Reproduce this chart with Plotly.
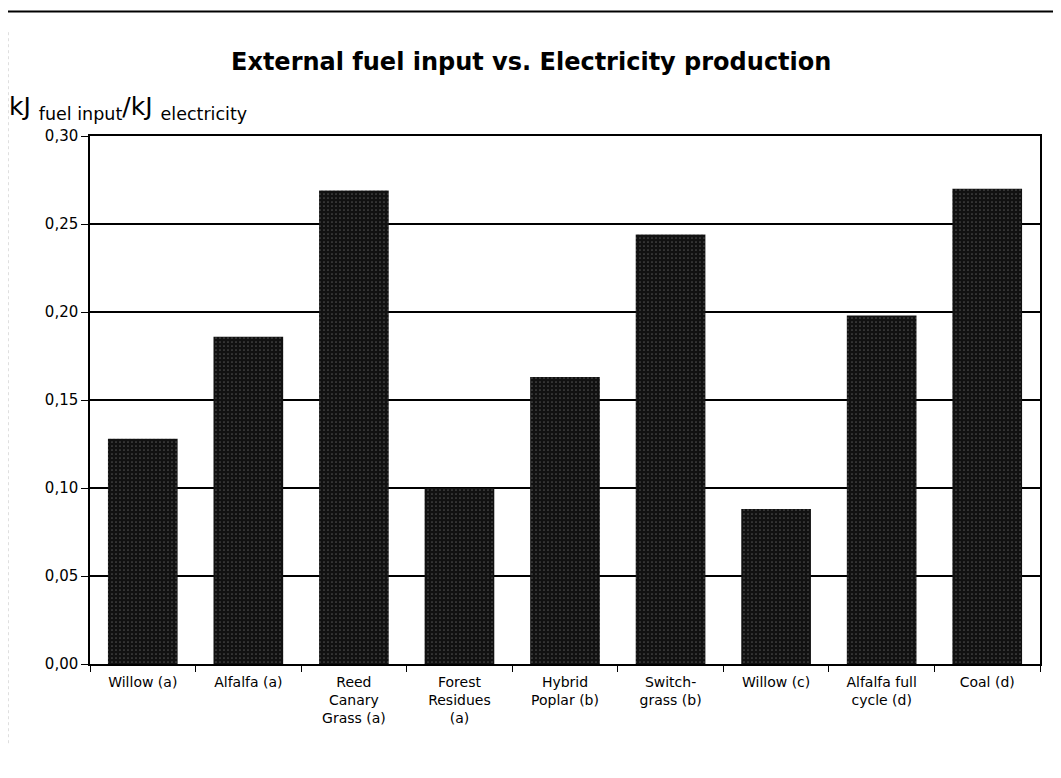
import plotly.graph_objects as go

categories = ["Willow (a)", "Alfalfa (a)", "Reed<br>Canary<br>Grass (a)", "Forest<br>Residues<br>(a)",
              "Hybrid<br>Poplar (b)", "Switch-<br>grass (b)", "Willow (c)", "Alfalfa full<br>cycle (d)", "Coal (d)"]
values = [0.128, 0.186, 0.269, 0.100, 0.163, 0.244, 0.088, 0.198, 0.270]
y_ticks = [0.0, 0.05, 0.10, 0.15, 0.20, 0.25, 0.30]

FONT = "DejaVu Sans, Liberation Sans, Arial, sans-serif"

fig = go.Figure(go.Bar(
    x=categories, y=values,
    marker=dict(color="#111111", line=dict(width=0),
                pattern=dict(shape=".", fgcolor="#8a8a8a", bgcolor="#111111", size=4, solidity=0.15)),
))

fig.update_layout(
    width=1061, height=778,
    margin=dict(l=82, r=29, t=128, b=122),
    paper_bgcolor="white", plot_bgcolor="white",
    separators=", ",
    bargap=0.34,
    showlegend=False,
    font=dict(family=FONT, color="black"),
    annotations=[
        dict(text="<b>External fuel input vs. Electricity production</b>",
             xref="paper", yref="paper", x=0.464, y=1.14, xanchor="center", yanchor="middle",
             showarrow=False, font=dict(size=24, color="black", family=FONT)),
        dict(text="kJ <sub>fuel input</sub>/kJ <sub>electricity</sub>",
             xref="paper", yref="paper", x=-0.087, y=1.018, xanchor="left", yanchor="bottom",
             showarrow=False, font=dict(size=25, color="black", family=FONT)),
    ],
    shapes=[dict(type="line", xref="paper", yref="paper", x0=-0.095, x1=1.03, y0=1.236, y1=1.236,
                 line=dict(color="black", width=2)),
            dict(type="line", xref="paper", yref="paper", x0=-0.0865, x1=-0.0865, y0=-0.15, y1=1.2,
                 line=dict(color="#999999", width=1, dash="dot"))],
)

fig.update_xaxes(
    showline=True, linecolor="black", linewidth=1.5, mirror=True,
    ticks="outside", tickson="boundaries", ticklen=6, tickcolor="black",
    tickfont=dict(size=14, color="black", family=FONT), showgrid=False,
    ticklabelstandoff=4,
)
fig.update_yaxes(
    range=[0, 0.30], tickvals=y_ticks, tickformat=".2f",
    showline=True, linecolor="black", linewidth=1.5, mirror=True,
    ticks="outside", ticklen=7, tickcolor="black",
    showgrid=True, gridcolor="black", gridwidth=1.5,
    tickfont=dict(size=15, color="black", family=FONT), zeroline=False,
)

fig.write_html("out.html")
